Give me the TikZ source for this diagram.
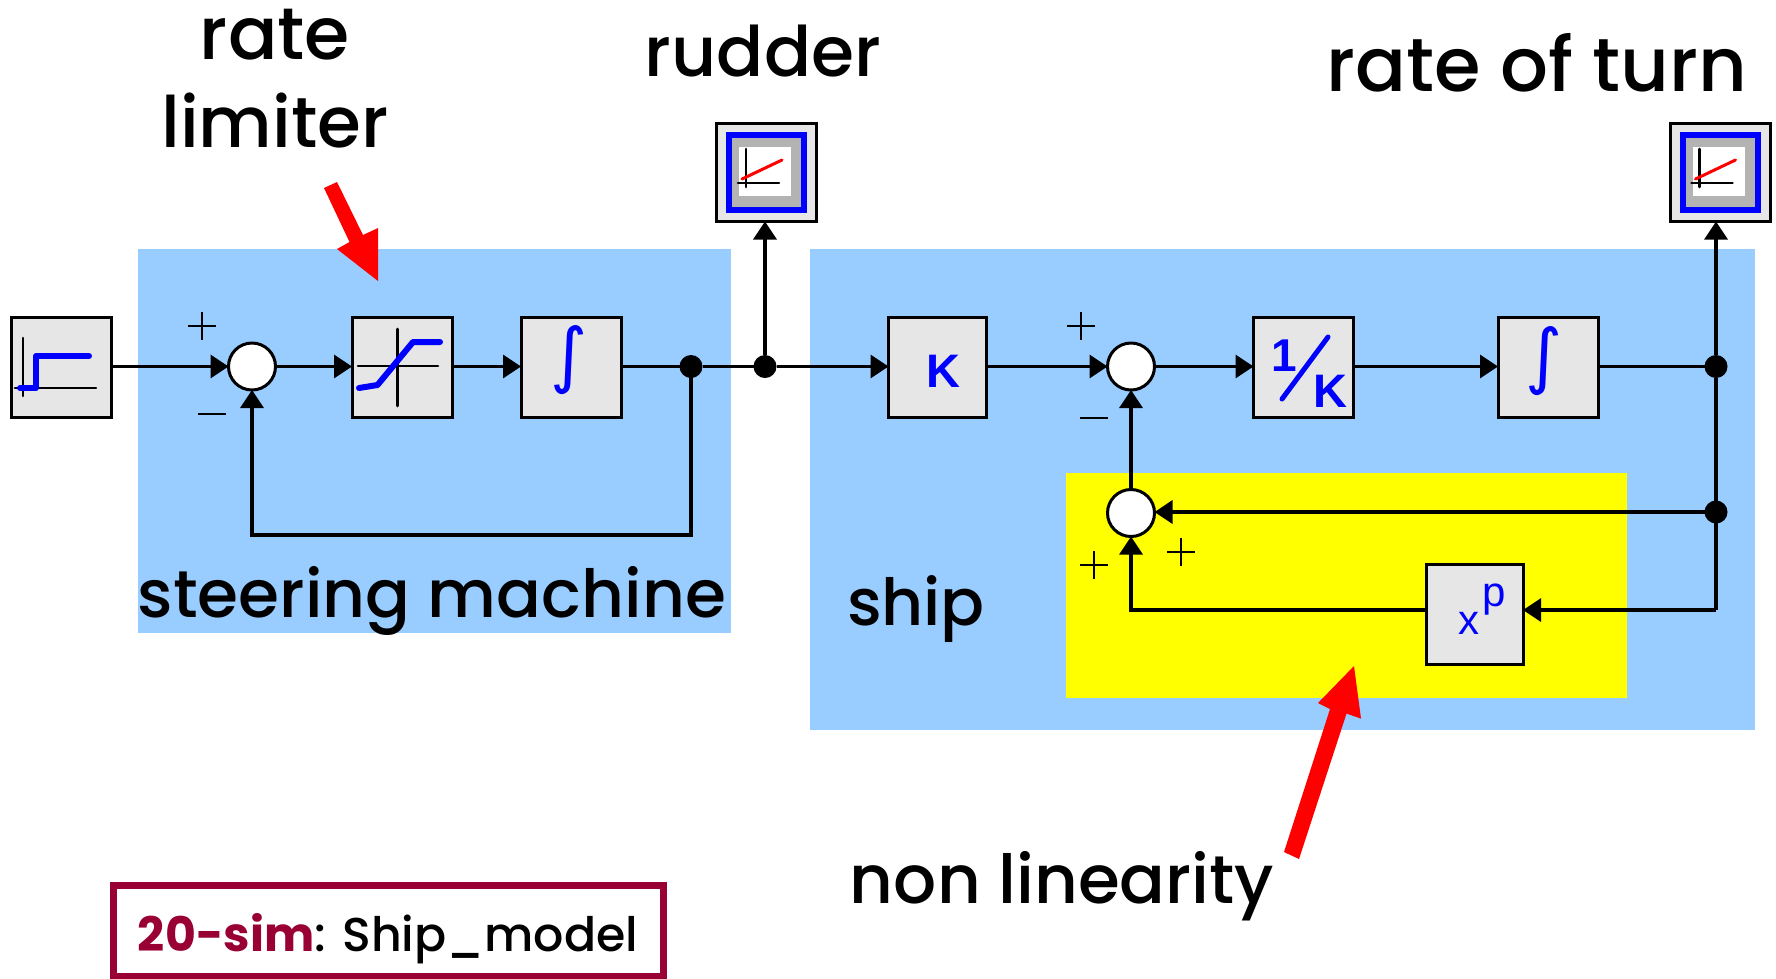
\documentclass[tikz,border=0pt]{standalone}
\usepackage{fontspec}
\usepackage{graphicx}
\setmainfont{Poppins Medium}[BoldFont={Poppins Bold}]
\newfontfamily\blockfont{Liberation Sans}
\newfontfamily\symbolfont{DejaVu Sans}
\usetikzlibrary{arrows.meta,calc}
\definecolor{regionblue}{HTML}{99CCFF}
\definecolor{blockgray}{HTML}{E6E6E6}
\definecolor{scopegray}{HTML}{B3B3B3}
\definecolor{framered}{HTML}{990033}
\definecolor{pureyellow}{HTML}{FFFF00}
\definecolor{pureblue}{HTML}{0000FF}
\definecolor{purered}{HTML}{FF0000}
\newcommand{\fitw}[2]{\resizebox{#1pt}{!}{#2}}
\newcommand{\intsign}{\textcolor{pureblue}{\resizebox{!}{54pt}{\symbolfont ∫}}}
\tikzset{
  blockbox/.style={draw=black,fill=blockgray,line width=3pt,minimum width=#1,minimum height=100pt,inner sep=0pt,outer sep=0pt},
  scopebox/.style={draw=black,fill=blockgray,line width=3pt,minimum width=100pt,minimum height=98pt,inner sep=0pt,outer sep=0pt},
  sumnode/.style={circle,draw=black,fill=white,line width=3pt,minimum size=47pt,inner sep=0pt,outer sep=0pt},
  joint/.style={circle,fill=black,minimum size=23pt,inner sep=0pt,outer sep=0pt},
  wire/.style={line width=3.3pt,line join=miter},
  flow/.style={wire,-{Triangle[length=18pt,width=23pt]}},
  axisline/.style={black,line width=2.6pt,line cap=round},
  iconblue/.style={pureblue,line width=6pt,line join=round,line cap=round},
  label/.style={inner sep=0pt,outer sep=0pt,anchor=base},
  signmark/.style={black,line width=2.8pt},
  redarrow/.style={fill=purered,draw=none},
}
\newcommand{\scopeicon}[2]{%
  \begin{scope}[shift={(#1,#2)}]
    \draw[pureblue,fill=scopegray,line width=6pt] (-37.5,-37.5) rectangle (37.5,37.5);
    \fill[white] (-27.5,-25.5) rectangle (24.5,23.5);
    \draw[axisline] (-20.5,-23.5) -- (-20.5,14.5);
    \draw[axisline] (-28.5,10.5) -- (12.5,10.5);
    \draw[purered,line width=3pt,line cap=round] (-24.5,6.5) -- (15.5,-12.5);
  \end{scope}}
\newcommand{\plusmark}[2]{\draw[signmark] (#1-14,#2) -- (#1+14,#2) (#1,#2-14) -- (#1,#2+14);}
\newcommand{\minusmark}[2]{\draw[signmark] (#1-14,#2) -- (#1+14,#2);}
\begin{document}
\begin{tikzpicture}[x=1pt,y=-1pt]
\useasboundingbox (0,0) rectangle (1776,978);
% regions
\fill[regionblue] (138,249) rectangle (731,633);
\fill[regionblue] (810,249) rectangle (1755,730);
\fill[pureyellow] (1066,473) rectangle (1627,698);
% nodes
\node[blockbox=100pt] (src) at (61.5,367) {};
\node[sumnode] (sumA) at (252,366.5) {};
\node[blockbox=100pt] (lim) at (402,367) {};
\node[blockbox=100pt] (intA) at (571,367) {};
\node[joint] (jA) at (691,366.5) {};
\node[joint] (jB) at (765,366.5) {};
\node[scopebox] (scA) at (766.5,172.5) {};
\node[scopebox] (scB) at (1720,172.5) {};
\node[blockbox=98pt] (gain) at (937.5,367) {};
\node[sumnode] (sumB) at (1131,366.5) {};
\node[blockbox=100pt] (inv) at (1303.5,367) {};
\node[blockbox=100pt] (intB) at (1548,367) {};
\node[joint] (jC) at (1716,366.5) {};
\node[joint] (jD) at (1716,512) {};
\node[sumnode] (sumC) at (1131,513) {};
\node[blockbox=97pt] (pow) at (1474.5,614) {};
\coordinate (fbA) at (691,535);
\coordinate (fbC) at (1716,610);
\coordinate (powIn) at (pow.east |- fbC);
\coordinate (powOut) at (pow.west |- fbC);
% connectors
\draw[flow] (src.east |- sumA) -- (sumA.west);
\draw[flow] (sumA.east) -- (lim.west |- sumA);
\draw[flow] (lim.east |- sumA) -- (intA.west |- sumA);
\draw[wire] (intA.east |- jA) -- (jA);
\draw[wire] (jA) -- (jB);
\draw[flow] (jB) -- (gain.west |- jB);
\draw[flow] (jB) -- (jB |- scA.south);
\draw[flow] (jA.center) -- (fbA) -| (sumA.south);
\draw[flow] (gain.east |- sumB) -- (sumB.west);
\draw[flow] (sumB.east) -- (inv.west |- sumB);
\draw[flow] (inv.east |- sumB) -- (intB.west |- sumB);
\draw[wire] (intB.east |- jC) -- (jC);
\draw[flow] (jC) -- (jC |- scB.south);
\draw[wire] (jC) -- (jD);
\draw[flow] (jD) -- (sumC.east |- jD);
\draw[wire] (jD.center) -- (fbC);
\draw[flow] (fbC) -- (powIn);
\draw[flow] (powOut) -| (sumC.south);
\draw[flow] (sumC.north) -- (sumB.south);
% source icon
\draw[axisline] (23,338) -- (23,396);
\draw[axisline] (15,388) -- (96,388);
\draw[iconblue] (20,388) -- (36,388) -- (36,356) -- (89,356);
% limiter icon
\draw[axisline] (397.5,329) -- (397.5,406);
\draw[axisline] (358,366) -- (438,366);
\draw[iconblue] (359,388) -- (377.5,385) -- (413,342) -- (440,342);
% scope icons
\scopeicon{766.5}{172.5}
\scopeicon{1720}{172.5}
% block labels
\node[label,anchor=center] (intAl) at (569,360) {\intsign};
\node[label,anchor=center] (intBl) at (1544,361) {\intsign};
\node[label,anchor=center,text=pureblue] (gainl) at (943.5,371) {\blockfont\bfseries\fontsize{47}{47}\selectfont K};
\node[label,anchor=center,text=pureblue] (one) at (1284,355.5) {\blockfont\bfseries\fontsize{46}{46}\selectfont 1};
\draw[pureblue,line width=5pt,line cap=round] (1328,337) -- (1282,399);
\node[label,anchor=center,text=pureblue] (invk) at (1330,391) {\blockfont\bfseries\fontsize{47}{47}\selectfont K};
\node[label,text=pureblue] (xl) at (1468.5,634) {\blockfont\fontsize{42}{42}\selectfont x};
\node[label,text=pureblue] (pl) at (1494.5,606) {\blockfont\fontsize{42}{42}\selectfont p};
% signs
\plusmark{202}{326}
\minusmark{212}{414}
\plusmark{1081}{326}
\minusmark{1094}{418}
\plusmark{1181}{552}
\plusmark{1094}{565}
% red arrows
\fill[redarrow] (324,188) -- (337,182) -- (363,235) -- (378,228) -- (378,281) -- (337,249) -- (349.5,242) -- cycle;
\fill[redarrow] (1284,852) -- (1299,859) -- (1346.5,713.6) -- (1361,718.6) -- (1354,666) -- (1318,703) -- (1330,709) -- cycle;
% text labels
\node[label] (t1) at (275,59) {\fitw{150}{rate}};
\node[label] (t2) at (275,147) {\fitw{227}{limiter}};
\node[label] (t3) at (763,76) {\fitw{236}{rudder}};
\node[label] (t4) at (1537,91) {\fitw{421}{rate of turn}};
\node[label] (t5) at (432,617) {\fitw{588}{steering machine}};
\node[label] (t6) at (916,625) {\fitw{138}{ship}};
\node[label] (t7) at (1062,903) {\fitw{424}{non linearity}};
% frame
\node[draw=framered,line width=7pt,fill=white,minimum width=550pt,minimum height=91pt,inner sep=0pt] (frame) at (388.5,930.5) {};
\node[label] (t8) at (388,951) {\fitw{500}{\textcolor{framered}{\bfseries 20-sim}: Ship\_model}};
\end{tikzpicture}
\end{document}
